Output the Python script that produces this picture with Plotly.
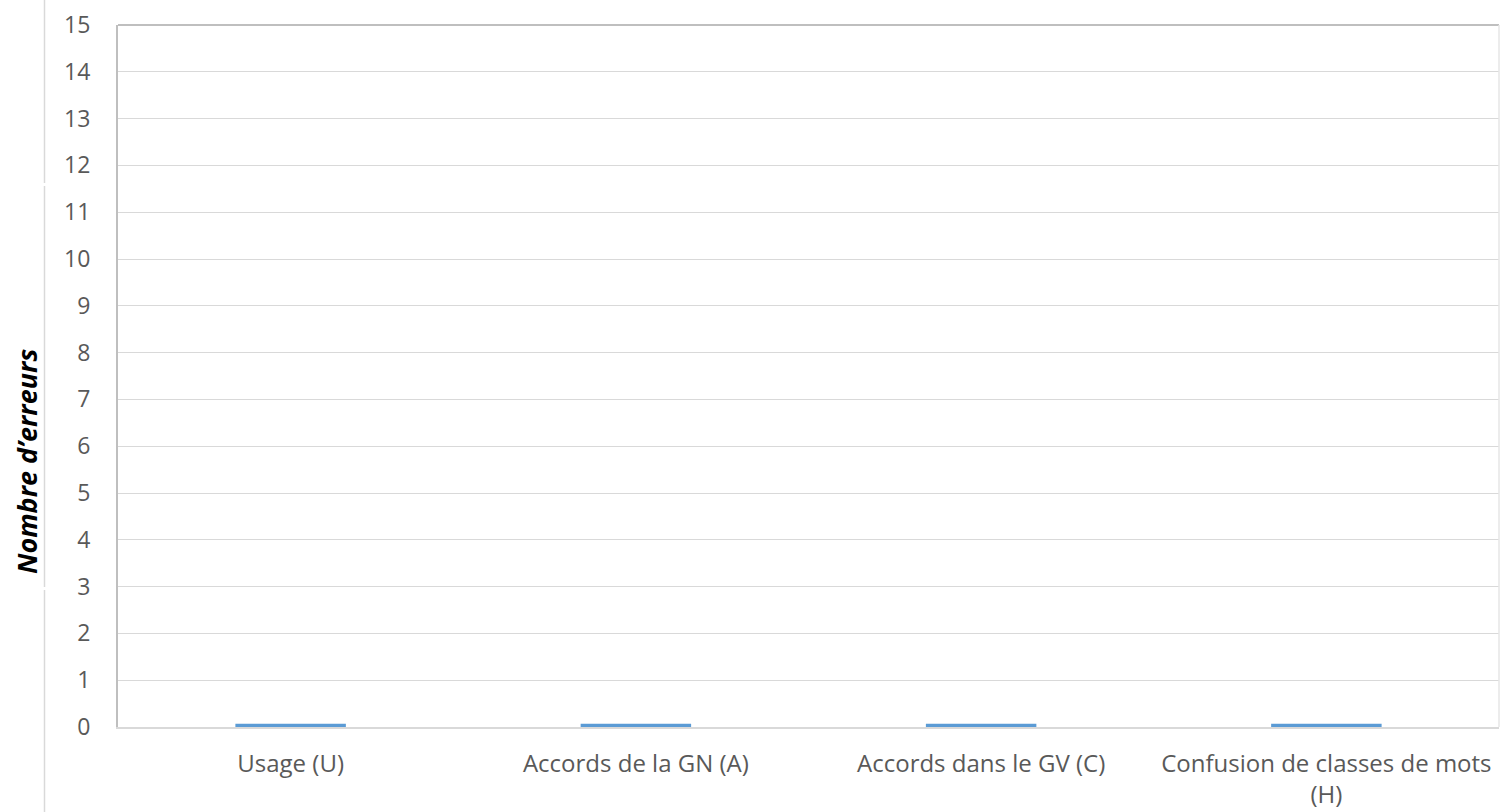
import plotly.graph_objects as go

categories = ["Usage (U)", "Accords de la GN (A)", "Accords dans le GV (C)", "Confusion de classes de mots<br>(H)"]
values = [0.07, 0.07, 0.07, 0.07]
y_ticks = list(range(0, 16))

W, H = 1500, 812
L, R, T, B = 118, 1499, 25, 727

fig = go.Figure()
fig.add_trace(go.Bar(x=categories, y=values, marker=dict(color="#5B9BD5", line=dict(width=0)), width=0.32))

fig.update_layout(
    width=W, height=H, autosize=False,
    margin=dict(l=L, r=W - R, t=T, b=H - B, pad=0),
    paper_bgcolor="white", plot_bgcolor="white",
    showlegend=False,
    font=dict(family="Open Sans", color="#595959"),
)
fig.update_yaxes(
    range=[0, 15], tickvals=y_ticks, ticktext=[str(v) for v in y_ticks],
    showgrid=True, gridcolor="#D9D9D9", gridwidth=1.3,
    showline=True, linecolor="#BFBFBF", linewidth=2, mirror=False,
    ticks="", tickfont=dict(size=23, color="#595959"), ticklabelstandoff=21,
    zeroline=False,
)
fig.update_xaxes(
    showgrid=False, showline=True, linecolor="#D9D9D9", linewidth=2,
    ticks="", tickfont=dict(size=24, color="#595959"), ticklabelstandoff=14,
)

# plot border top/right
fig.add_shape(type="line", xref="paper", yref="paper", x0=0, x1=1, y0=1, y1=1,
              line=dict(color="#BFBFBF", width=2))
fig.add_shape(type="line", xref="paper", yref="paper", x0=1, x1=1, y0=0, y1=1,
              line=dict(color="#E6E6E6", width=1.5))

def px_x(x):
    return (x - L) / (R - L)
def px_y(y):
    return (B - y) / (B - T)

# outer left frame line (with small gaps)
for y0, y1 in [(0, 183), (186, 587), (590, 812)]:
    fig.add_shape(type="line", xref="paper", yref="paper",
                  x0=px_x(44.5), x1=px_x(44.5), y0=px_y(y0), y1=px_y(y1),
                  line=dict(color="#D9D9D9", width=1.5))

fig.add_annotation(
    text="<b><i>Nombre d’erreurs</i></b>", xref="paper", yref="paper",
    x=px_x(26), y=px_y(462), textangle=-90, showarrow=False,
    font=dict(size=27, color="#000000", family="Open Sans"),
    xanchor="center", yanchor="middle",
)

fig.write_html(
    "out.html",
    config={"responsive": False, "displayModeBar": False},
    post_script="document.body.style.margin='0';document.body.style.padding='0';document.body.style.overflow='hidden';",
)
